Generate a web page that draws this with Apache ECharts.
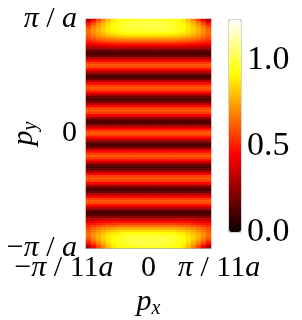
<!DOCTYPE html>
<html><head><meta charset="utf-8">
<script src="https://cdn.jsdelivr.net/npm/echarts@6/dist/echarts.min.js"></script>
<style>html,body{margin:0;padding:0;background:#fff}#c{width:302px;height:320px}</style>
</head><body><div id="c"></div>
<script>
// ---- data ----
const xCategories = Array.from({length: 25}, (_, i) => i); // 25 columns across p_x
const xTickValues = [-1, 0, 1];
const xTickLabels = ['−π / 11a', '0', 'π / 11a'];
const yTickValues = [-1, 0, 1];
const yTickLabels = ['−π / a', '0', 'π / a'];
const cbarTicks = [0.0, 0.5, 1.0];
const cbarMax = 1.23;
// middle rows (x-independent stripes), rows 15..85 from top
const midRows = [
  0.11,0.18,0.31,0.45,0.56,0.61,0.56,0.45,0.31,0.18,
  0.11,0.18,0.31,0.45,0.56,0.61,0.56,0.45,0.31,0.18,
  0.11,0.18,0.31,0.45,0.56,0.61,0.56,0.45,0.31,0.18,
  0.11,0.18,0.31,0.45,0.56,0.61,0.56,0.45,0.31,0.18,
  0.11,0.18,0.31,0.45,0.56,0.61,0.56,0.45,0.31,0.18,
  0.11,0.18,0.31,0.45,0.56,0.61,0.56,0.45,0.31,0.18,
  0.11,0.18,0.31,0.45,0.56,0.61,0.56,0.45,0.31,0.18,
  0.11
];
// end-cap rows near p_y = ±π/a (edge row first); columns from plot edge to centre
const capRows = [
  [0.28,0.44,0.58,0.70,0.80,0.88,0.92,0.94,0.95,0.96,0.96,0.97,0.97],
  [0.40,0.53,0.65,0.75,0.83,0.89,0.93,0.96,0.97,0.98,0.99,0.99,0.99],
  [0.50,0.61,0.71,0.79,0.86,0.91,0.95,0.97,0.99,1.00,1.00,1.00,1.00],
  [0.58,0.67,0.75,0.82,0.88,0.92,0.95,0.97,0.99,1.00,1.00,1.00,1.00],
  [0.62,0.70,0.77,0.83,0.88,0.92,0.95,0.97,0.98,0.99,0.99,0.99,0.99],
  [0.64,0.71,0.77,0.82,0.87,0.90,0.93,0.95,0.96,0.97,0.97,0.97,0.97],
  [0.64,0.70,0.75,0.80,0.84,0.87,0.89,0.91,0.92,0.92,0.92,0.92,0.92],
  [0.62,0.67,0.72,0.76,0.79,0.81,0.83,0.84,0.85,0.85,0.85,0.85,0.85],
  [0.58,0.62,0.66,0.69,0.71,0.73,0.75,0.76,0.76,0.76,0.76,0.76,0.76],
  [0.53,0.56,0.59,0.61,0.63,0.64,0.65,0.66,0.66,0.66,0.66,0.66,0.66],
  [0.47,0.49,0.51,0.53,0.54,0.55,0.56,0.57,0.57,0.57,0.57,0.57,0.57],
  [0.40,0.41,0.43,0.44,0.45,0.45,0.46,0.46,0.46,0.46,0.46,0.46,0.46],
  [0.31,0.32,0.33,0.33,0.34,0.34,0.34,0.34,0.34,0.34,0.34,0.34,0.34],
  [0.22,0.23,0.23,0.24,0.24,0.24,0.24,0.24,0.24,0.24,0.24,0.24,0.24],
  [0.15,0.15,0.15,0.15,0.15,0.15,0.15,0.15,0.15,0.15,0.15,0.15,0.15]
];

// ---- build table ----
const nCap = capRows.length;
const nRows = nCap * 2 + midRows.length;
const yCategories = Array.from({length: nRows}, (_, i) => i);
const data = [];
for (let r = 0; r < nRows; r++) {
  let row;
  if (r < nCap) row = capRows[r];
  else if (r >= nRows - nCap) row = capRows[nRows - 1 - r];
  else row = null;
  for (let c = 0; c < xCategories.length; c++) {
    const half = c <= 12 ? c : 24 - c;
    const v = row ? row[half] : midRows[r - nCap];
    data.push([c, r, v]);
  }
}

// matplotlib "hot" colormap
function hot(t) {
  const r = Math.min(1, 0.0416 + (1 - 0.0416) * t / 0.365079);
  const g = Math.max(0, Math.min(1, (t - 0.365079) / (0.746032 - 0.365079)));
  const b = Math.max(0, Math.min(1, (t - 0.746032) / (1 - 0.746032)));
  const h = x => Math.round(x * 255).toString(16).padStart(2, '0');
  return '#' + h(r) + h(g) + h(b);
}
const hotColors = Array.from({length: 64}, (_, i) => hot(i / 63));

const FONT = '"Liberation Serif", "DejaVu Serif", serif';
const FS = 30;
function mathRich(s) {
  return s.split(/([πa])/).filter(p => p.length).map(p => (p === 'π' || p === 'a') ? '{i|' + p + '}' : '{n|' + p + '}').join('');
}
const richStyles = {
  i: {fontFamily: FONT, fontStyle: 'italic', fontSize: FS, color: '#000'},
  n: {fontFamily: FONT, fontSize: FS, color: '#000'},
  gl: {width: 44},
  gr: {width: 16}
};
const nameRich = {
  i: {fontFamily: FONT, fontStyle: 'italic', fontSize: FS, color: '#000'},
  s: {fontFamily: FONT, fontStyle: 'italic', fontSize: 20, color: '#000', padding: [14, 0, 0, 0]}
};

const chart = echarts.init(document.getElementById('c'), null, {renderer: 'canvas'});
chart.setOption({
  animation: false,
  backgroundColor: '#fff',
  grid: [
    {left: 86, top: 19, width: 125, height: 229, show: false, containLabel: false, outerBoundsMode: 'none'},
    {left: 229, top: 20, width: 12, height: 212, show: true, borderColor: '#aaa', borderWidth: 1,
     backgroundColor: 'transparent', containLabel: false, outerBoundsMode: 'none'}
  ],
  xAxis: [
    {type: 'category', gridIndex: 0, data: xCategories, show: false},
    {type: 'value', gridIndex: 0, min: -1, max: 1, interval: 1, position: 'bottom',
     axisLine: {show: true, lineStyle: {color: '#aaa', width: 1}}, axisTick: {show: false}, splitLine: {show: false},
     axisLabel: {margin: 5, fontFamily: FONT, fontSize: FS, color: '#000', rich: richStyles,
       showMinLabel: true, showMaxLabel: true, hideOverlap: false,
       formatter: (v) => {
         const i = xTickValues.indexOf(v);
         let s = mathRich(xTickLabels[i]);
         if (i === 0) s = s + '{gl|}';
         if (i === 2) s = '{gr|}' + s;
         return s;
       }},
     name: '{i|p}{s|x}', nameLocation: 'middle', nameGap: 37, nameMoveOverlap: false,
     nameTextStyle: {fontFamily: FONT, fontSize: FS, color: '#000', rich: nameRich}},
    {type: 'value', gridIndex: 1, show: false, min: 0, max: 1}
  ],
  yAxis: [
    {type: 'category', gridIndex: 0, data: yCategories, inverse: true, show: false},
    {type: 'value', gridIndex: 0, min: -1, max: 1, interval: 1, position: 'left',
     axisLine: {show: false}, axisTick: {show: false}, splitLine: {show: false},
     axisLabel: {margin: 9, fontFamily: FONT, fontSize: FS, color: '#000', rich: richStyles,
       showMinLabel: true, showMaxLabel: true, hideOverlap: false,
       formatter: (v) => mathRich(yTickLabels[yTickValues.indexOf(v)])},
     name: '{i|p}{s|y}', nameLocation: 'middle', nameGap: 45, nameRotate: 90, nameMoveOverlap: false,
     nameTextStyle: {fontFamily: FONT, fontSize: FS, color: '#000', rich: nameRich}},
    {type: 'value', gridIndex: 1, min: 0, max: cbarMax, interval: 0.5, position: 'right',
     axisLine: {show: false}, axisTick: {show: false}, splitLine: {show: false},
     axisLabel: {margin: 6, fontFamily: FONT, fontSize: 34, color: '#000',
       showMaxLabel: false, hideOverlap: false,
       formatter: (v) => cbarTicks.some(t => Math.abs(t - v) < 1e-9) ? v.toFixed(1) : ''}}
  ],
  visualMap: {
    type: 'continuous', min: 0, max: cbarMax, seriesIndex: 0, calculable: false,
    orient: 'vertical', left: 229, top: 20, itemWidth: 12, itemHeight: 212,
    padding: 0, text: null, hoverLink: false, inRange: {color: hotColors}
  },
  series: [{
    type: 'heatmap', xAxisIndex: 0, yAxisIndex: 0, data: data,
    itemStyle: {borderWidth: 0}, emphasis: {disabled: true}, progressive: 0
  }]
});
</script></body></html>
